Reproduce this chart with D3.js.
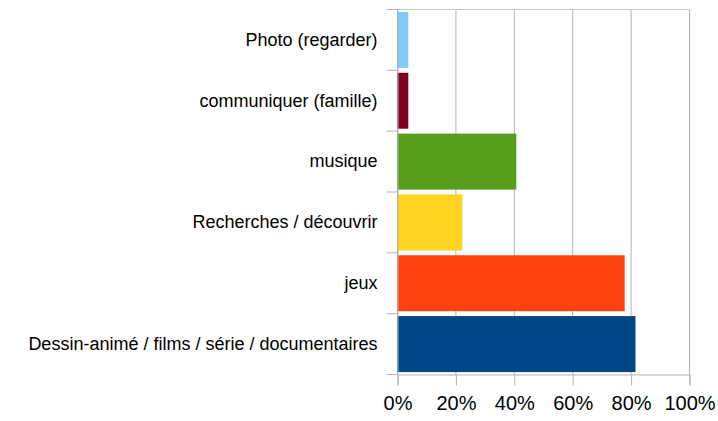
<!DOCTYPE html>
<html>
<head>
<meta charset="utf-8">
<script src="https://cdn.jsdelivr.net/npm/d3@7"></script>
<style>
  html, body { margin: 0; padding: 0; background: #fff; }
  svg { display: block; font-family: "Liberation Sans", Arial, sans-serif; }
</style>
</head>
<body>
<svg id="chart" width="718" height="421"></svg>
<script>
// Activities, listed top to bottom
const categories = [
  "Photo (regarder)",
  "communiquer (famille)",
  "musique",
  "Recherches / découvrir",
  "jeux",
  "Dessin-animé / films / série / documentaires"
];
// Share of respondents, in percent
const values = [3.7, 3.7, 40.7, 22.2, 77.8, 81.5];
const barColors = ["#83caff", "#7e0021", "#579d1c", "#ffd320", "#ff420e", "#004586"];
const xTicks = [0, 20, 40, 60, 80, 100];

const svg = d3.select("#chart");
const plot = { left: 397.5, right: 689.5, top: 9.5, bottom: 374.5 };

const x = d3.scaleLinear().domain([0, 100]).range([plot.left, plot.right]);
const y = d3.scaleBand().domain(categories).range([plot.top, plot.bottom])
  .paddingInner(0.08).paddingOuter(0.04);

const gridColor = "#b3b3b3";

// vertical gridlines
svg.append("g").selectAll("line").data(xTicks).join("line")
  .attr("x1", d => x(d)).attr("x2", d => x(d))
  .attr("y1", plot.top).attr("y2", plot.bottom)
  .attr("stroke", gridColor).attr("stroke-width", 1);

// top border
svg.append("line")
  .attr("x1", plot.left).attr("x2", plot.right).attr("y1", plot.top).attr("y2", plot.top)
  .attr("stroke", "#c8c8c8");

// bars
svg.append("g").selectAll("rect").data(categories).join("rect")
  .attr("x", x(0))
  .attr("y", d => y(d))
  .attr("width", (d, i) => x(values[i]) - x(0))
  .attr("height", y.bandwidth())
  .attr("fill", (d, i) => barColors[i]);

// category axis
const yAxis = svg.append("g").attr("transform", `translate(${plot.left},0)`)
  .call(d3.axisLeft(y).tickSize(0).tickPadding(20));
yAxis.select(".domain").attr("stroke", gridColor);
yAxis.selectAll("text")
  .attr("font-size", 18).attr("fill", "#000")
  .attr("font-family", "Liberation Sans, Arial, sans-serif");

// category boundary ticks
const n = categories.length;
const boundaries = d3.range(n + 1).map(i => plot.top + i * (plot.bottom - plot.top) / n);
svg.append("g").selectAll("line").data(boundaries).join("line")
  .attr("x1", plot.left - 11).attr("x2", plot.left)
  .attr("y1", d => d).attr("y2", d => d)
  .attr("stroke", gridColor);

// value axis
const xAxis = svg.append("g").attr("transform", `translate(0,${plot.bottom})`)
  .call(d3.axisBottom(x).tickValues(xTicks).tickFormat(d => d + "%").tickSize(11).tickPadding(10));
xAxis.select(".domain").attr("stroke", gridColor);
xAxis.selectAll(".tick line").attr("stroke", gridColor);
xAxis.selectAll("text")
  .attr("font-size", 20).attr("fill", "#000")
  .attr("font-family", "Liberation Sans, Arial, sans-serif");
</script>
</body>
</html>
